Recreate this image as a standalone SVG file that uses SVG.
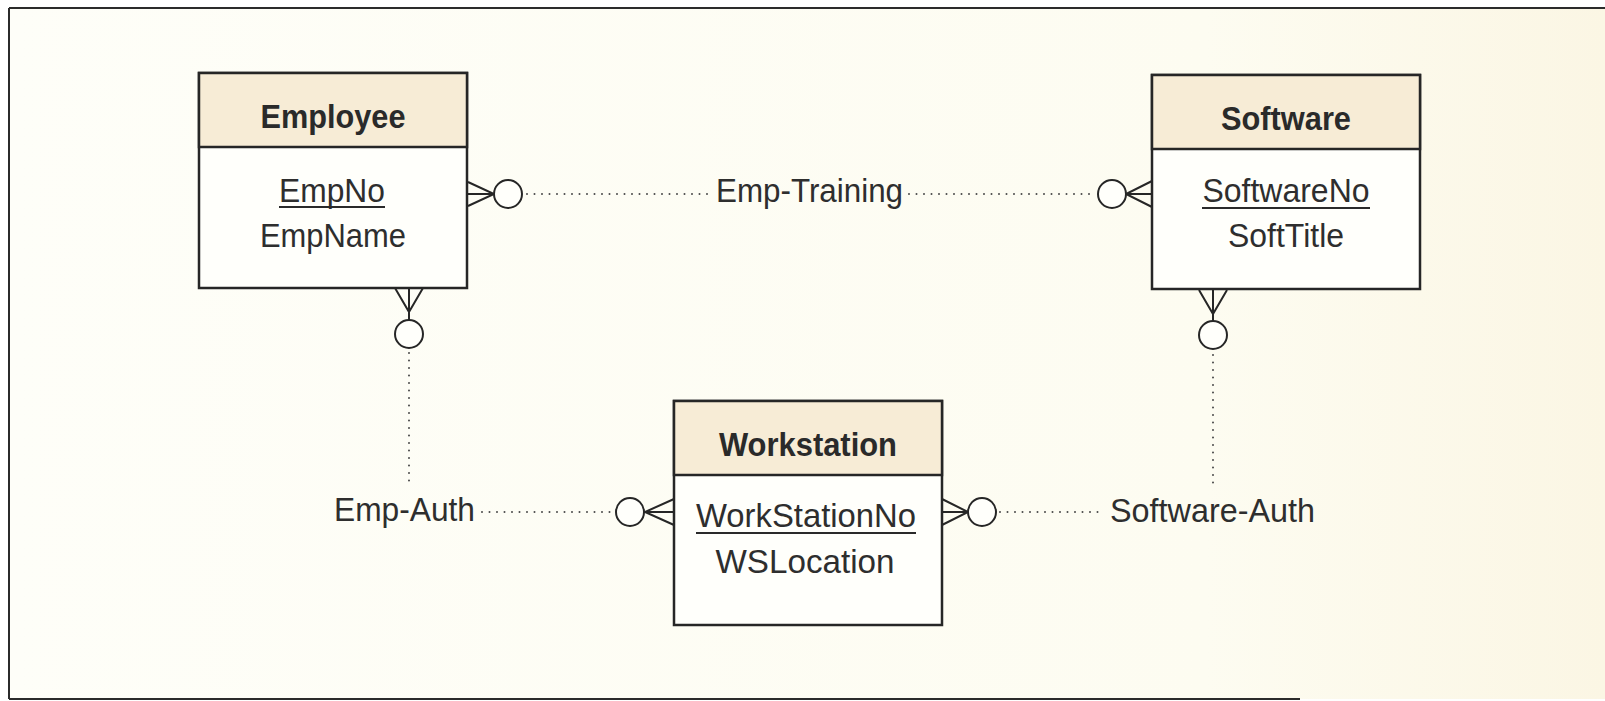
<svg xmlns="http://www.w3.org/2000/svg" width="1605" height="701" viewBox="0 0 1605 701">
<defs>
<linearGradient id="bg" x1="0" y1="0" x2="1" y2="0">
<stop offset="0" stop-color="#fefef8"/>
<stop offset="0.75" stop-color="#fdfcf1"/>
<stop offset="1" stop-color="#fbf6e4"/>
</linearGradient>
<style>
.frame{stroke:#2b2b2b;stroke-width:2;fill:none}
.box{fill:#fffffb;stroke:#262626;stroke-width:2.5}
.hdr{fill:#f7ecd6;stroke:#262626;stroke-width:2.5}
.title{font-family:"Liberation Sans",Arial,sans-serif;font-weight:bold;font-size:34px;fill:#2a2a2a;text-anchor:middle}
.attr{font-family:"Liberation Sans",Arial,sans-serif;font-size:33px;fill:#2e2e2e;text-anchor:middle}
.lbl{font-family:"Liberation Sans",Arial,sans-serif;font-size:33px;fill:#2e2e2e}
.ul{stroke:#2a2a2a;stroke-width:2}
.dot{stroke:#4a4a4a;stroke-width:2;stroke-linecap:round;stroke-dasharray:0 7.5;fill:none}
.crow{stroke:#262626;stroke-width:2;fill:none}
.opt{stroke:#262626;stroke-width:2;fill:#fffffb}
</style>
</defs>
<rect x="0" y="0" width="1605" height="701" fill="#ffffff"/>
<rect x="9" y="8" width="1596" height="691" fill="url(#bg)"/>
<g id="frame">
<line class="frame" x1="9" y1="8" x2="1605" y2="8"/>
<line class="frame" x1="9" y1="8" x2="9" y2="699"/>
<line class="frame" x1="9" y1="699" x2="1300" y2="699"/>
</g>

<g id="connectors">
<!-- Emp-Training -->
<line class="dot" x1="527" y1="194" x2="711" y2="194"/>
<line class="dot" x1="909" y1="194" x2="1094" y2="194"/>
<!-- Emp-Auth -->
<line class="dot" x1="409" y1="353" x2="409" y2="487"/>
<line class="dot" x1="482" y1="512" x2="613" y2="512"/>
<!-- Software-Auth -->
<line class="dot" x1="1213" y1="355" x2="1213" y2="489"/>
<line class="dot" x1="1000" y1="512" x2="1104" y2="512"/>
<!-- crow's feet: Employee right -->
<path class="crow" d="M468 182 L494 194 L468 206 M468 194 L494 194"/>
<circle class="opt" cx="508" cy="194" r="14"/>
<!-- Employee bottom -->
<path class="crow" d="M395 288 L409 312 L423 288 M409 288 L409 320"/>
<circle class="opt" cx="409" cy="334" r="14"/>
<!-- Software left -->
<path class="crow" d="M1152 181 L1126 194 L1152 207 M1152 194 L1126 194"/>
<circle class="opt" cx="1112" cy="194" r="14"/>
<!-- Software bottom -->
<path class="crow" d="M1199 290 L1213 314 L1227 290 M1213 290 L1213 321"/>
<circle class="opt" cx="1213" cy="335" r="14"/>
<!-- Workstation left -->
<path class="crow" d="M674 499 L645 512 L674 525 M674 512 L644 512"/>
<circle class="opt" cx="630" cy="512" r="14"/>
<!-- Workstation right -->
<path class="crow" d="M942 499 L968 512 L942 525 M942 512 L968 512"/>
<circle class="opt" cx="982" cy="512" r="14"/>
<text class="lbl" x="716" y="202" textLength="187" lengthAdjust="spacingAndGlyphs">Emp-Training</text>
<text class="lbl" x="334" y="521" textLength="141" lengthAdjust="spacingAndGlyphs">Emp-Auth</text>
<text class="lbl" x="1110" y="522" textLength="205" lengthAdjust="spacingAndGlyphs">Software-Auth</text>
</g>

<g id="employee">
<rect class="box" x="199" y="73" width="268" height="215"/>
<rect class="hdr" x="199" y="73" width="268" height="74"/>
<text class="title" x="333" y="128" textLength="145" lengthAdjust="spacingAndGlyphs">Employee</text>
<text class="attr" x="332" y="202" textLength="106" lengthAdjust="spacingAndGlyphs">EmpNo</text>
<line class="ul" x1="279" y1="207" x2="385" y2="207"/>
<text class="attr" x="333" y="247" textLength="146" lengthAdjust="spacingAndGlyphs">EmpName</text>
</g>

<g id="software">
<rect class="box" x="1152" y="75" width="268" height="214"/>
<rect class="hdr" x="1152" y="75" width="268" height="74"/>
<text class="title" x="1286" y="130" textLength="130" lengthAdjust="spacingAndGlyphs">Software</text>
<text class="attr" x="1286" y="202" textLength="167" lengthAdjust="spacingAndGlyphs">SoftwareNo</text>
<line class="ul" x1="1202" y1="208" x2="1370" y2="208"/>
<text class="attr" x="1286" y="247" textLength="116" lengthAdjust="spacingAndGlyphs">SoftTitle</text>
</g>

<g id="workstation">
<rect class="box" x="674" y="401" width="268" height="224"/>
<rect class="hdr" x="674" y="401" width="268" height="74"/>
<text class="title" x="808" y="456" textLength="178" lengthAdjust="spacingAndGlyphs">Workstation</text>
<text class="attr" x="806" y="527" textLength="220" lengthAdjust="spacingAndGlyphs">WorkStationNo</text>
<line class="ul" x1="696" y1="533" x2="916" y2="533"/>
<text class="attr" x="805" y="573" textLength="179" lengthAdjust="spacingAndGlyphs">WSLocation</text>
</g>
</svg>
